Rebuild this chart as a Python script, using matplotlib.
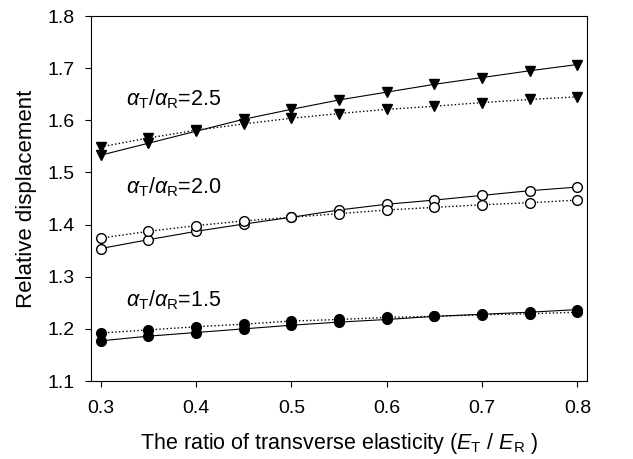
import matplotlib
matplotlib.use('Agg')
import matplotlib.pyplot as plt

plt.rcParams['font.family'] = ['Liberation Sans', 'DejaVu Sans']
plt.rcParams['mathtext.fontset'] = 'custom'
plt.rcParams['mathtext.rm'] = 'Liberation Sans'
plt.rcParams['mathtext.it'] = 'Liberation Sans:italic'

ratio = [0.30, 0.35, 0.40, 0.45, 0.50, 0.55, 0.60, 0.65, 0.70, 0.75, 0.80]

# alpha_T / alpha_R = 2.5
a25_solid = [1.533, 1.556, 1.579, 1.602, 1.621, 1.639, 1.654, 1.669, 1.682, 1.695, 1.707]
a25_dot = [1.549, 1.566, 1.581, 1.593, 1.604, 1.613, 1.621, 1.627, 1.634, 1.640, 1.645]
# alpha_T / alpha_R = 2.0
a20_solid = [1.354, 1.371, 1.387, 1.401, 1.414, 1.428, 1.439, 1.447, 1.456, 1.465, 1.472]
a20_dot = [1.374, 1.387, 1.398, 1.407, 1.414, 1.421, 1.428, 1.433, 1.438, 1.442, 1.447]
# alpha_T / alpha_R = 1.5
a15_solid = [1.177, 1.186, 1.193, 1.200, 1.207, 1.213, 1.218, 1.224, 1.228, 1.232, 1.237]
a15_dot = [1.192, 1.198, 1.204, 1.209, 1.215, 1.218, 1.222, 1.224, 1.227, 1.229, 1.232]

fig = plt.figure(figsize=(6.33, 4.59), dpi=100)
ax = fig.add_axes([0.1438, 0.1699, 0.7835, 0.7952])

ms = 7
ax.plot(ratio, a25_solid, '-', color='black', lw=0.8, marker='v', ms=ms, mfc='black', mec='black')
ax.plot(ratio, a25_dot, ':', color='black', lw=1.0, marker='v', ms=ms, mfc='black', mec='black')
ax.plot(ratio, a20_solid, '-', color='black', lw=0.8, marker='o', ms=ms, mfc='white', mec='black')
ax.plot(ratio, a20_dot, ':', color='black', lw=1.0, marker='o', ms=ms, mfc='white', mec='black')
ax.plot(ratio, a15_solid, '-', color='black', lw=0.8, marker='o', ms=ms, mfc='black', mec='black')
ax.plot(ratio, a15_dot, ':', color='black', lw=1.0, marker='o', ms=ms, mfc='black', mec='black')

ax.text(0.327, 1.64, r'$\alpha_{\rm T}/\alpha_{\rm R}$=2.5', fontsize=15.5, va='center')
ax.text(0.327, 1.472, r'$\alpha_{\rm T}/\alpha_{\rm R}$=2.0', fontsize=15.5, va='center')
ax.text(0.327, 1.255, r'$\alpha_{\rm T}/\alpha_{\rm R}$=1.5', fontsize=15.5, va='center')

ax.set_xlim(0.29, 0.81)
ax.set_ylim(1.1, 1.8)
ax.set_xticks([0.3, 0.4, 0.5, 0.6, 0.7, 0.8])
ax.set_yticks([1.1, 1.2, 1.3, 1.4, 1.5, 1.6, 1.7, 1.8])
ax.tick_params(axis='both', labelsize=14, direction='out', length=4.5, width=0.8)
ax.tick_params(axis='y', pad=7)
ax.tick_params(axis='x', pad=9)
ax.set_xlabel(r'The ratio of transverse elasticity ($E_{\rm T}$ / $E_{\rm R}$ )', fontsize=15.5, labelpad=10)
ax.set_ylabel('Relative displacement', fontsize=16, labelpad=8)
for sp in ax.spines.values():
    sp.set_linewidth(0.8)

fig.savefig('out.png', dpi=100)
